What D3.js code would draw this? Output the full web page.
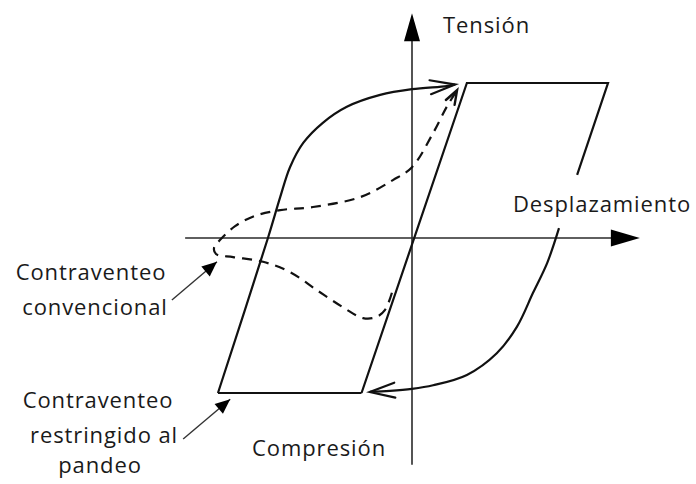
<!DOCTYPE html>
<html>
<head>
<meta charset="utf-8">
<script src="https://cdn.jsdelivr.net/npm/d3@7"></script>
<style>
  html, body { margin: 0; padding: 0; background: #fff; }
  svg { display: block; }
  text { font-family: "Open Sans", "Noto Sans", sans-serif; fill: #1a1a1a; }
</style>
</head>
<body>
<svg id="chart" width="696" height="484"></svg>
<script>
// ---- Data (arbitrary units: displacement x, tension y) ----
const axisX = [-4.63, 4.65];          // horizontal axis extent (displacement)
const axisY = [-4.39, 4.35];          // vertical axis extent (tension)

// Buckling-restrained brace (BRB) hysteresis loop
const brbUpper = [[-1.03, -3.0], [1.12, 3.0], [4.0, 3.0], [3.37, 1.22]];
const brbBottom = [[-1.03, -3.0], [-3.96, -3.0]];
const brbLeftCurve = [[-3.96, -3.0], [-2.94, 0.0], [-2.69, 0.79], [-2.49, 1.37], [-2.22, 1.84],
  [-1.82, 2.23], [-1.33, 2.54], [-0.65, 2.77], [0.0, 2.88], [0.71, 2.94], [0.88, 2.97]];
const brbRightCurve = [[3.0, 0.19], [2.76, -0.48], [2.47, -1.06], [2.14, -1.72], [1.73, -2.23],
  [1.12, -2.65], [0.43, -2.85], [0.0, -2.92], [-0.45, -2.96], [-0.86, -2.98]];

// Conventional brace (dashed)
const conventional = [[-0.41, -1.06], [-0.55, -1.39], [-0.73, -1.53], [-1.0, -1.55], [-1.41, -1.34],
  [-1.94, -1.01], [-2.49, -0.66], [-3.04, -0.46], [-3.65, -0.37], [-4.0, -0.31], [-4.04, -0.19],
  [-3.92, -0.04], [-3.61, 0.23], [-3.2, 0.43], [-2.69, 0.54], [-2.02, 0.60], [-1.06, 0.79],
  [-0.39, 1.12], [0.0, 1.37], [0.43, 2.03], [0.71, 2.54], [0.92, 2.86]];

// Annotation pointers
const pointerConv = [[-4.9, -1.20], [-3.98, -0.46]];
const pointerBrb = [[-4.67, -3.89], [-3.71, -3.12]];

// Labels
const labelTension = "Tensión";
const labelDisp = "Desplazamiento";
const labelComp = "Compresión";
const labelConv = ["Contraventeo", "convencional"];
const labelBrb = ["Contraventeo", "restringido al", "pandeo"];

// ---- Scales ----
const x = d3.scaleLinear().domain([-4, 4]).range([216, 608]);
const y = d3.scaleLinear().domain([-3, 3]).range([393, 83]);

const svg = d3.select("#chart");
const ink = "#111";

const lineLin = d3.line().x(d => x(d[0])).y(d => y(d[1]));
const lineCurve = d3.line().x(d => x(d[0])).y(d => y(d[1])).curve(d3.curveCatmullRom.alpha(0.5));

// Axes
const axisColor = "#2a2a2a";
svg.append("line").attr("x1", x(axisX[0])).attr("x2", x(axisX[1]) - 20)
  .attr("y1", y(0)).attr("y2", y(0)).attr("stroke", axisColor).attr("stroke-width", 1.6);
svg.append("line").attr("x1", x(0)).attr("x2", x(0))
  .attr("y1", y(axisY[0])).attr("y2", y(axisY[1]) + 20).attr("stroke", axisColor).attr("stroke-width", 1.6);

// filled arrowhead helper
function filledHead(tip, from, len, half, color) {
  const tx = x(tip[0]), ty = y(tip[1]);
  const fx = x(from[0]), fy = y(from[1]);
  const a = Math.atan2(ty - fy, tx - fx);
  const bx = tx - len * Math.cos(a), by = ty - len * Math.sin(a);
  const nx = -Math.sin(a), ny = Math.cos(a);
  svg.append("path")
    .attr("d", `M${tx},${ty}L${bx + nx * half},${by + ny * half}L${bx - nx * half},${by - ny * half}Z`)
    .attr("fill", color);
}
function openHead(tip, from, len, half, color, w) {
  const tx = x(tip[0]), ty = y(tip[1]);
  const fx = x(from[0]), fy = y(from[1]);
  const a = Math.atan2(ty - fy, tx - fx);
  const bx = tx - len * Math.cos(a), by = ty - len * Math.sin(a);
  const nx = -Math.sin(a), ny = Math.cos(a);
  svg.append("path")
    .attr("d", `M${bx + nx * half},${by + ny * half}L${tx},${ty}L${bx - nx * half},${by - ny * half}`)
    .attr("fill", "none").attr("stroke", color).attr("stroke-width", w)
    .attr("stroke-linecap", "round").attr("stroke-linejoin", "miter");
}

filledHead([axisX[1], 0], [0, 0], 29, 8.5, "#000");
filledHead([0, axisY[1]], [0, 0], 28, 8, "#000");

// BRB loop
const sw = 2.2;
svg.append("path").attr("d", lineLin(brbUpper)).attr("fill", "none").attr("stroke", ink)
  .attr("stroke-width", sw).attr("stroke-linejoin", "miter");
svg.append("path").attr("d", lineLin(brbBottom)).attr("fill", "none").attr("stroke", ink)
  .attr("stroke-width", sw);
svg.append("path").attr("d", lineCurve(brbLeftCurve)).attr("fill", "none").attr("stroke", ink)
  .attr("stroke-width", sw);
svg.append("path").attr("d", lineCurve(brbRightCurve)).attr("fill", "none").attr("stroke", ink)
  .attr("stroke-width", sw);

openHead(brbLeftCurve[brbLeftCurve.length - 1], brbLeftCurve[brbLeftCurve.length - 3], 25, 7, ink, 2.2);
openHead(brbRightCurve[brbRightCurve.length - 1], brbRightCurve[brbRightCurve.length - 3], 25, 7.5, ink, 2.2);

// Conventional dashed
svg.append("path").attr("d", lineCurve(conventional)).attr("fill", "none").attr("stroke", ink)
  .attr("stroke-width", 2.2).attr("stroke-dasharray", "10,7");
openHead(conventional[conventional.length - 1], conventional[conventional.length - 3], 14, 5, ink, 2.4);

// Pointers
[pointerConv, pointerBrb].forEach(p => {
  svg.append("line").attr("x1", x(p[0][0])).attr("y1", y(p[0][1]))
    .attr("x2", x(p[1][0])).attr("y2", y(p[1][1]))
    .attr("stroke", "#333").attr("stroke-width", 1.4);
  filledHead(p[1], p[0], 15, 6.5, "#000");
});

// Labels
const fs = 22;
function label(txt, px, py, anchor) {
  svg.append("text").attr("x", px).attr("y", py).attr("text-anchor", anchor || "start")
    .attr("font-size", fs).attr("letter-spacing", 0.9).text(txt);
}
label(labelTension, x(0) + 31, 33);
label(labelDisp, 513, 212);
label(labelComp, 252, 456);
label(labelConv[0], 91, 280, "middle");
label(labelConv[1], 95, 315, "middle");
label(labelBrb[0], 98, 408, "middle");
label(labelBrb[1], 104, 443, "middle");
label(labelBrb[2], 100, 473, "middle");
</script>
</body>
</html>
